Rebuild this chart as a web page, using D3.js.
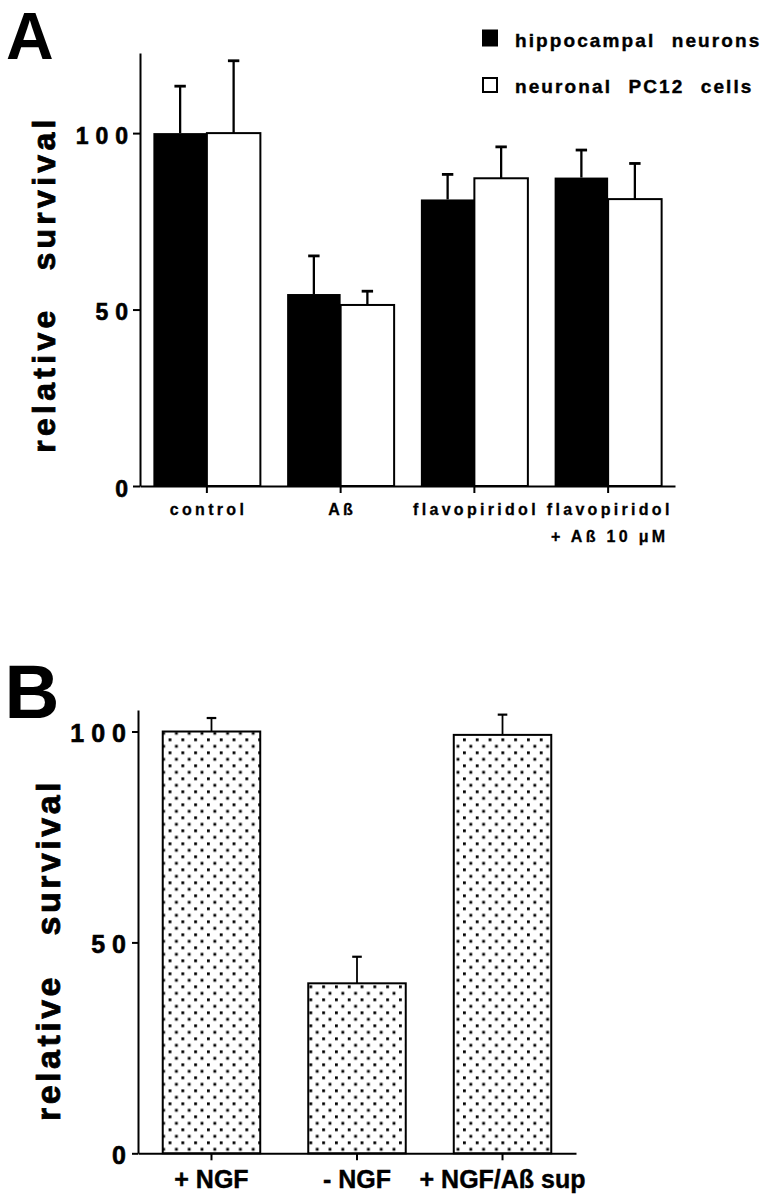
<!DOCTYPE html>
<html><head><meta charset="utf-8">
<script src="https://cdn.jsdelivr.net/npm/d3@7"></script>
<style>
body{margin:0;background:#fff}
svg{display:block}
text{font-family:"Liberation Sans",Arial,Helvetica,sans-serif;font-weight:bold;fill:#000}
</style>
</head><body>
<svg id="c" width="772" height="1200"></svg>
<script>
// ---------- DATA ----------
// Panel A
const categoriesA = ["control", "Aß", "flavopiridol", "flavopiridol\n+ Aß 10 μM"];
const seriesNamesA = ["hippocampal neurons", "neuronal PC12 cells"];
const hippocampal = [100, 54.4, 81.2, 87.4];
const hippocampalErr = [13.3, 10.8, 7.1, 7.8];
const pc12 = [100, 51.3, 87.2, 81.3];
const pc12Err = [20.5, 3.9, 8.9, 10.1];
const ticksA = [0, 50, 100];
// Panel B
const categoriesB = ["+ NGF", "- NGF", "+ NGF/Aß sup"];
const survivalB = [100, 40.3, 99.2];
const survivalBErr = [3.2, 6.3, 4.8];
const ticksB = [0, 50, 100];
const yTitle = ["relative", "survival"];

// ---------- CHART ----------
const svg = d3.select("#c");
svg.append("rect").attr("width", 772).attr("height", 1200).attr("fill", "#fff");

const defs = svg.append("defs");
const pat = defs.append("pattern").attr("id", "dots").attr("patternUnits", "userSpaceOnUse")
  .attr("x", 168.6).attr("y", 725.4).attr("width", 12.8).attr("height", 13);
pat.append("rect").attr("width", 12.8).attr("height", 13).attr("fill", "#fff");
pat.append("rect").attr("x", 0).attr("y", 0).attr("width", 2.8).attr("height", 2.8).attr("fill", "#000");
pat.append("rect").attr("x", 6.4).attr("y", 6.5).attr("width", 2.8).attr("height", 2.8).attr("fill", "#000");

function yLabel(g, x, y, size, ls, gap) {
  const t = g.append("text").attr("transform", `translate(${x},${y}) rotate(-90)`)
    .attr("text-anchor", "middle").style("font-size", size + "px").style("letter-spacing", ls + "px")
    .attr("stroke", "#000").attr("stroke-width", 0.8);
  t.append("tspan").text(yTitle[0]);
  t.append("tspan").attr("dx", gap - ls).text(yTitle[1]);
}

function styleAxis(g, sw) {
  g.selectAll("path.domain").attr("stroke", "#000").attr("stroke-width", sw);
  g.selectAll(".tick line").attr("stroke", "#000").attr("stroke-width", sw);
}

// ===== Panel A =====
const A = svg.append("g");
const xA = d3.scaleBand().domain(categoriesA).range([140, 675]).paddingInner(0.2).paddingOuter(0.1);
const subA = d3.scaleBand().domain([0, 1]).range([0, xA.bandwidth()]);
const yA = d3.scaleLinear().domain([0, 122.7]).range([486, 53]);

const seriesA = [hippocampal, pc12];
const errsA = [hippocampalErr, pc12Err];
seriesA.forEach((vals, s) => {
  A.append("g").selectAll("rect").data(vals).join("rect")
    .attr("x", (d, i) => xA(categoriesA[i]) + subA(s))
    .attr("y", d => yA(d))
    .attr("width", subA.bandwidth())
    .attr("height", d => yA(0) - yA(d))
    .attr("fill", s === 0 ? "#000" : "#fff")
    .attr("stroke", "#000").attr("stroke-width", s === 0 ? 0 : 2);
});
seriesA.forEach((vals, s) => {
  const g = A.append("g");
  vals.forEach((v, i) => {
    const cx = xA(categoriesA[i]) + subA(s) + subA.bandwidth() / 2;
    const top = yA(v + errsA[s][i]);
    g.append("line").attr("x1", cx).attr("x2", cx).attr("y1", yA(v)).attr("y2", top)
      .attr("stroke", "#000").attr("stroke-width", 2.3);
    g.append("line").attr("x1", cx - 5.7).attr("x2", cx + 5.7).attr("y1", top).attr("y2", top)
      .attr("stroke", "#000").attr("stroke-width", 2.8);
  });
});

const yAxA = A.append("g").attr("transform", "translate(140,0)")
  .call(d3.axisLeft(yA).tickValues(ticksA).tickSize(7).tickSizeOuter(0).tickFormat(d3.format("d")));
styleAxis(yAxA, 2);
yAxA.selectAll(".tick text").attr("x", -5).attr("dy", "0.45em")
  .style("font-size", "23px").style("letter-spacing", "7px").style("font-family", null)
  .attr("stroke", "#000").attr("stroke-width", 0.6);

const xAxA = A.append("g").attr("transform", `translate(0,${yA(0)})`)
  .call(d3.axisBottom(xA).tickSize(7).tickSizeOuter(0).tickFormat(""));
styleAxis(xAxA, 2);
xAxA.selectAll(".tick").each(function (d) {
  const lines = d.split("\n");
  const t = d3.select(this).append("text").attr("text-anchor", "middle")
    .style("font-size", "16px").style("letter-spacing", "3.3px")
    .attr("stroke", "#000").attr("stroke-width", 0.3);
  lines.forEach((ln, k) => t.append("tspan").attr("x", 1.6).attr("y", 29 + k * 27).text(ln));
});

yLabel(A, 55, 284, 32, 4.3, 40);
A.append("text").attr("x", 6).attr("y", 59).style("font-size", "66px").text("A");

// legend
const legA = A.append("g");
seriesNamesA.forEach((name, s) => {
  legA.append("rect").attr("x", s === 0 ? 482 : 483).attr("y", s === 0 ? 29.5 : 78)
    .attr("width", s === 0 ? 16 : 14).attr("height", s === 0 ? 17 : 14)
    .attr("fill", s === 0 ? "#000" : "#fff").attr("stroke", "#000").attr("stroke-width", s === 0 ? 0 : 2);
  const t = legA.append("text").attr("x", 515).attr("y", 46.5 + s * 46.5)
    .style("font-size", "19px").style("letter-spacing", "2.1px")
    .attr("stroke", "#000").attr("stroke-width", 0.4);
  name.split(" ").forEach((w, k) => t.append("tspan").attr("dx", k === 0 ? 0 : 9).text((k ? " " : "") + w));
});

// ===== Panel B =====
const B = svg.append("g");
const xB = d3.scaleBand().domain(categoriesB).range([138, 576]).paddingInner(0.33).paddingOuter(0.17);
const yB = d3.scaleLinear().domain([0, 105.1]).range([1153.3, 710]);

B.append("g").selectAll("rect").data(survivalB).join("rect")
  .attr("x", (d, i) => xB(categoriesB[i]))
  .attr("y", d => yB(d))
  .attr("width", xB.bandwidth())
  .attr("height", d => yB(0) - yB(d))
  .attr("fill", "url(#dots)").attr("stroke", "#000").attr("stroke-width", 2);

const errB = B.append("g");
survivalB.forEach((v, i) => {
  const cx = xB(categoriesB[i]) + xB.bandwidth() / 2;
  const top = yB(v + survivalBErr[i]);
  errB.append("line").attr("x1", cx).attr("x2", cx).attr("y1", yB(v)).attr("y2", top)
    .attr("stroke", "#000").attr("stroke-width", 1.8);
  errB.append("line").attr("x1", cx - 4.8).attr("x2", cx + 4.8).attr("y1", top).attr("y2", top)
    .attr("stroke", "#000").attr("stroke-width", 2.2);
});

const yAxB = B.append("g").attr("transform", "translate(138,0)")
  .call(d3.axisLeft(yB).tickValues(ticksB).tickSize(6).tickSizeOuter(0).tickFormat(d3.format("d")));
styleAxis(yAxB, 2);
yAxB.selectAll(".tick text").attr("x", -5).attr("dy", "0.39em")
  .style("font-size", "25px").style("letter-spacing", "7px").style("font-family", null)
  .attr("stroke", "#000").attr("stroke-width", 0.6);

const xAxB = B.append("g").attr("transform", `translate(0,${yB(0)})`)
  .call(d3.axisBottom(xB).tickSize(7).tickSizeOuter(0));
styleAxis(xAxB, 2);
xAxB.selectAll(".tick text").attr("y", 35).attr("dy", 0)
  .style("font-size", "25px").style("font-family", null)
  .attr("stroke", "#000").attr("stroke-width", 0.4);

yLabel(B, 60, 950, 34, 3.5, 42);
B.append("text").attr("x", 4.5).attr("y", 718).style("font-size", "76px").text("B");
</script>
</body></html>
